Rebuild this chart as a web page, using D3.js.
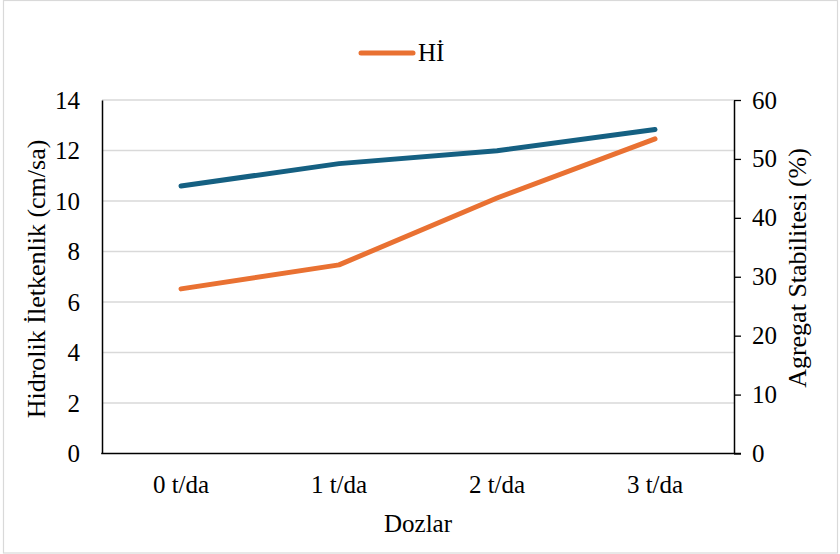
<!DOCTYPE html>
<html>
<head>
<meta charset="utf-8">
<script src="https://cdn.jsdelivr.net/npm/d3@7"></script>
</head>
<body style="margin:0">
<svg id="fig" width="840" height="554"></svg>
<script>
// Doses applied
const categories = ["0 t/da", "1 t/da", "2 t/da", "3 t/da"];
// Hydraulic conductivity (cm/sa), left axis
const hidrolik = [6.52, 7.47, 10.12, 12.46];
// Aggregate stability (%), right axis
const agregat = [45.4, 49.2, 51.4, 55.0];
const leftTicks = [0, 2, 4, 6, 8, 10, 12, 14];
const rightTicks = [0, 10, 20, 30, 40, 50, 60];

const FONT = '"Liberation Serif"';
const TICK_FS = 25, TITLE_FS = 26;
const m = { left: 102, right: 734, top: 100, bottom: 453.5 };
const svg = d3.select("#fig");

// outer frame
svg.append("rect")
  .attr("x", 3.5).attr("y", 0.5).attr("width", 834).attr("height", 552.5)
  .attr("fill", "#fff").attr("stroke", "#d9d9d9").attr("stroke-width", 1.2);

const x = d3.scaleBand().domain(categories).range([m.left, m.right]);
const yL = d3.scaleLinear().domain([0, 14]).range([m.bottom, m.top]);
const yR = d3.scaleLinear().domain([0, 60]).range([m.bottom, m.top]);

const styleText = (sel, fs) => sel.style("font-family", FONT).attr("font-size", fs).attr("fill", "#000");

// gridlines
svg.append("g").selectAll("line").data(leftTicks.filter(d => d > 0)).join("line")
  .attr("x1", m.left).attr("x2", m.right)
  .attr("y1", d => yL(d)).attr("y2", d => yL(d))
  .attr("stroke", "#d9d9d9").attr("stroke-width", 1.3);

// left axis
const gL = svg.append("g").attr("transform", `translate(${m.left},0)`)
  .call(d3.axisLeft(yL).tickValues(leftTicks).tickSize(0).tickPadding(22));
gL.attr("font-family", null).attr("font-size", null);
gL.select(".domain").attr("stroke", "#000").attr("stroke-width", 1.5);
gL.selectAll("text").call(styleText, TICK_FS);

// right axis
const gR = svg.append("g").attr("transform", `translate(${m.right},0)`)
  .call(d3.axisRight(yR).tickValues(rightTicks).tickSize(7).tickSizeOuter(0).tickPadding(11));
gR.attr("font-family", null).attr("font-size", null);
gR.select(".domain").attr("stroke", "#000").attr("stroke-width", 1.5);
gR.selectAll(".tick line").attr("stroke", "#000").attr("stroke-width", 1.3);
gR.selectAll("text").call(styleText, TICK_FS);

// bottom axis
const gB = svg.append("g").attr("transform", `translate(0,${m.bottom})`)
  .call(d3.axisBottom(x).tickSize(0).tickPadding(22));
gB.attr("font-family", null).attr("font-size", null);
gB.select(".domain").remove();
gB.selectAll("text").call(styleText, TICK_FS);
svg.append("line")
  .attr("x1", m.left - 0.75).attr("x2", m.right + 7)
  .attr("y1", m.bottom).attr("y2", m.bottom)
  .attr("stroke", "#000").attr("stroke-width", 1.5);

const cx = d => x(d) + x.bandwidth() / 2;

// aggregate stability line (right axis)
svg.append("path")
  .datum(agregat)
  .attr("fill", "none").attr("stroke", "#156082").attr("stroke-width", 5)
  .attr("stroke-linecap", "round").attr("stroke-linejoin", "round")
  .attr("d", d3.line().x((d, i) => cx(categories[i])).y(d => yR(d)));

// hydraulic conductivity line (left axis)
svg.append("path")
  .datum(hidrolik)
  .attr("fill", "none").attr("stroke", "#E97132").attr("stroke-width", 5)
  .attr("stroke-linecap", "round").attr("stroke-linejoin", "round")
  .attr("d", d3.line().x((d, i) => cx(categories[i])).y(d => yL(d)));

// axis titles
svg.append("text")
  .attr("transform", "translate(45,279) rotate(-90)")
  .attr("text-anchor", "middle").call(styleText, TITLE_FS)
  .text("Hidrolik İletkenlik (cm/sa)");
svg.append("text")
  .attr("transform", "translate(806,268) rotate(-90)")
  .attr("text-anchor", "middle").call(styleText, TITLE_FS)
  .text("Agregat Stabilitesi (%)");
svg.append("text")
  .attr("x", (m.left + m.right) / 2).attr("y", 532)
  .attr("text-anchor", "middle").call(styleText, TICK_FS)
  .text("Dozlar");

// legend
const lg = svg.append("g").attr("transform", "translate(361,53)");
lg.append("line").attr("x1", 0).attr("x2", 52).attr("y1", 0).attr("y2", 0)
  .attr("stroke", "#E97132").attr("stroke-width", 5).attr("stroke-linecap", "round");
lg.append("text").attr("x", 57).attr("y", 8).call(styleText, TICK_FS).text("Hİ");
</script>
</body>
</html>
